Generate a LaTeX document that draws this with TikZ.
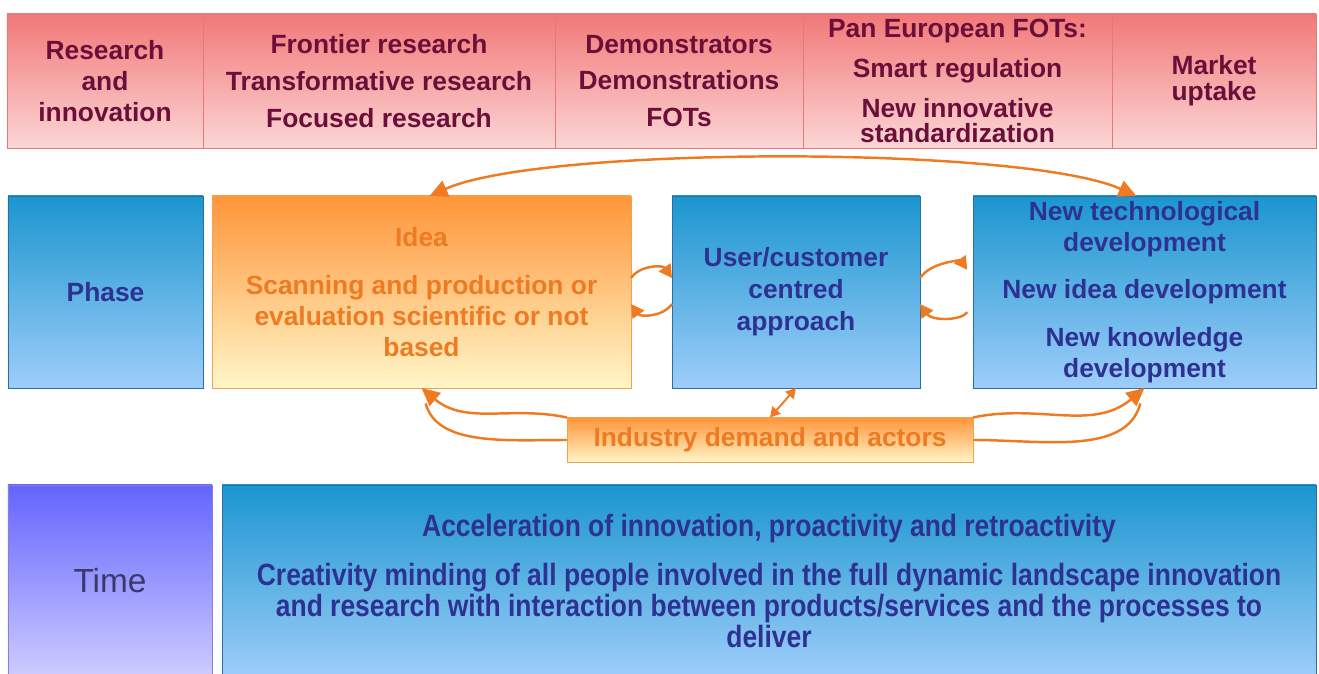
\documentclass[tikz,border=0pt]{standalone}
\usepackage{fontspec}
\setmainfont{Liberation Sans}
\newfontfamily\narrowfont[FakeStretch=0.86]{Liberation Sans}
\usetikzlibrary{positioning,arrows.meta}
\definecolor{redtop}{HTML}{F27878}
\definecolor{redbot}{HTML}{FCD6D6}
\definecolor{redline}{HTML}{E67A7A}
\definecolor{maroon}{HTML}{6B0F3A}
\definecolor{bluetop}{HTML}{1B96CF}
\definecolor{bluebot}{HTML}{9ECDFA}
\definecolor{blueline}{HTML}{2A6EA6}
\definecolor{navy}{HTML}{2E3192}
\definecolor{orangetop}{HTML}{FF953A}
\definecolor{orangebot}{HTML}{FFF6C8}
\definecolor{orangeline}{HTML}{F2A24C}
\definecolor{orangetext}{HTML}{EE7A22}
\definecolor{violettop}{HTML}{6464FF}
\definecolor{violetbot}{HTML}{CECCFF}
\definecolor{violetline}{HTML}{8A7FD0}
\definecolor{slate}{HTML}{3A3A6A}
\definecolor{flowc}{HTML}{F07A22}
\tikzset{red node/.style={rectangle, draw=redline, top color=redtop, bottom color=redbot, minimum height=26.8mm, inner sep=0pt, outer sep=0pt, align=center, text=maroon}, }
\tikzset{blue node/.style={rectangle, draw=blueline, top color=bluetop, bottom color=bluebot, minimum height=38.4mm, inner sep=0pt, outer sep=0pt, align=center, text=navy, font=\bfseries\fontsize{15}{17.6}\selectfont}, }
\tikzset{orange node/.style={rectangle, draw=orangeline, top color=orangetop, bottom color=orangebot, minimum height=38.4mm, inner sep=0pt, outer sep=0pt, align=center, text=orangetext, font=\bfseries\fontsize{15}{17.6}\selectfont}, }
\tikzset{violet node/.style={rectangle, draw=violetline, top color=violettop, bottom color=violetbot, minimum height=38.4mm, inner sep=0pt, outer sep=0pt, align=center, text=slate}, }
\tikzset{big tip/.style={-{Triangle[length=3.6mm,width=3.4mm]}}, }
\tikzset{big tips/.style={{Triangle[length=3.6mm,width=3.4mm]}-{Triangle[length=3.6mm,width=3.4mm]}}, }
\tikzset{small tip/.style={-{Triangle[length=2.6mm,width=2.8mm]}}, }

\begin{document}
\begin{tikzpicture}[x=0.2mm, y=0.2mm]
	\useasboundingbox (0,0) rectangle (1319,673);
	\clip (0,0) rectangle (1319,673);
	% top row
	\node[red node, minimum width=39.2mm, font=\bfseries\fontsize{15}{17.6}\selectfont] (r1) at (105,592) {Research\\and\\innovation};
	\node[red node, minimum width=70.4mm, font=\bfseries\fontsize{15}{21}\selectfont] (r2) [right = 0pt of r1] {Frontier research\\Transformative research\\Focused research};
	\node[red node, minimum width=49.6mm, font=\bfseries\fontsize{15}{21}\selectfont] (r3) [right = 0pt of r2] {Demonstrators\\Demonstrations\\FOTs};
	\node[red node, minimum width=61.8mm, font=\bfseries\fontsize{15}{14.4}\selectfont] (r4) [right = 0pt of r3] {Pan European FOTs:\\[8.6pt]Smart regulation\\[8.4pt]New innovative\\standardization};
	\node[red node, minimum width=40.8mm, font=\bfseries\fontsize{15}{14.8}\selectfont] (r5) [right = 0pt of r4] {Market\\uptake};
	% phase row
	\node[blue node, minimum width=39mm] (phase) at (105.5,381) {Phase};
	\node[orange node, minimum width=83.8mm] (idea) [right = 1.8mm of phase] {Idea\\[9.7pt]Scanning and production or\\evaluation scientific or not\\based};
	\node[blue node, minimum width=49.6mm, font=\bfseries\fontsize{15}{18.2}\selectfont] (user) [right = 8.2mm of idea] {User/customer\\centred\\approach};
	\node[blue node, minimum width=68.6mm] (tech) [right = 10.6mm of user] {New technological\\development\\[9.5pt]New idea development\\[9.5pt]New knowledge\\development};
	\node[orange node, minimum width=81.2mm, minimum height=9mm] (ind) at (770,233) {Industry demand and actors};
	% time row
	\node[violet node, minimum width=40.8mm, font=\fontsize{19}{22}\selectfont] (time) at (110,92) {Time};
	\node[blue node, minimum width=218.8mm, font=\narrowfont\bfseries\fontsize{17.5}{17.8}\selectfont] (accel) [right = 2mm of time] {Acceleration of innovation, proactivity and retroactivity\\[10pt]Creativity minding of all people involved in the full dynamic landscape innovation\\and research with interaction between products/services and the processes to\\deliver};
	\path[draw, color=flowc, line width=1.4pt]
		([xshift=1.6mm]idea.north) edge[big tips, out=24, in=156, looseness=0.45] ([xshift=-1.6mm]tech.north)
		(ind.north west) edge[big tip, out=168, in=-40] (idea.south)
		(ind.west) edge[out=180, in=-75, shorten >=3.2mm] (idea.south)
		(ind.north east) edge[big tip, out=12, in=-140] (tech.south)
		(ind.east) edge[out=0, in=-105, shorten >=3.2mm] (tech.south)
		(user.south) edge[{Triangle[length=2mm,width=2.2mm]}-{Triangle[length=2mm,width=2.2mm]}, line width=1.1pt] (ind.north)
		([yshift=2.8mm]idea.east) edge[small tip, out=55, in=125, looseness=1] ([yshift=2.8mm]user.west)
		([yshift=-2.4mm]user.west) edge[small tip, out=-125, in=-55, looseness=1] ([yshift=-2.4mm]idea.east)
		([yshift=2.8mm]user.east) edge[small tip, out=55, in=125, looseness=1, shorten >=2mm] ([yshift=2.8mm]tech.west)
		([yshift=-2.4mm]tech.west) edge[small tip, out=-125, in=-55, looseness=1, shorten <=2mm] ([yshift=-2.4mm]user.east)
		;
\end{tikzpicture}
\end{document}
